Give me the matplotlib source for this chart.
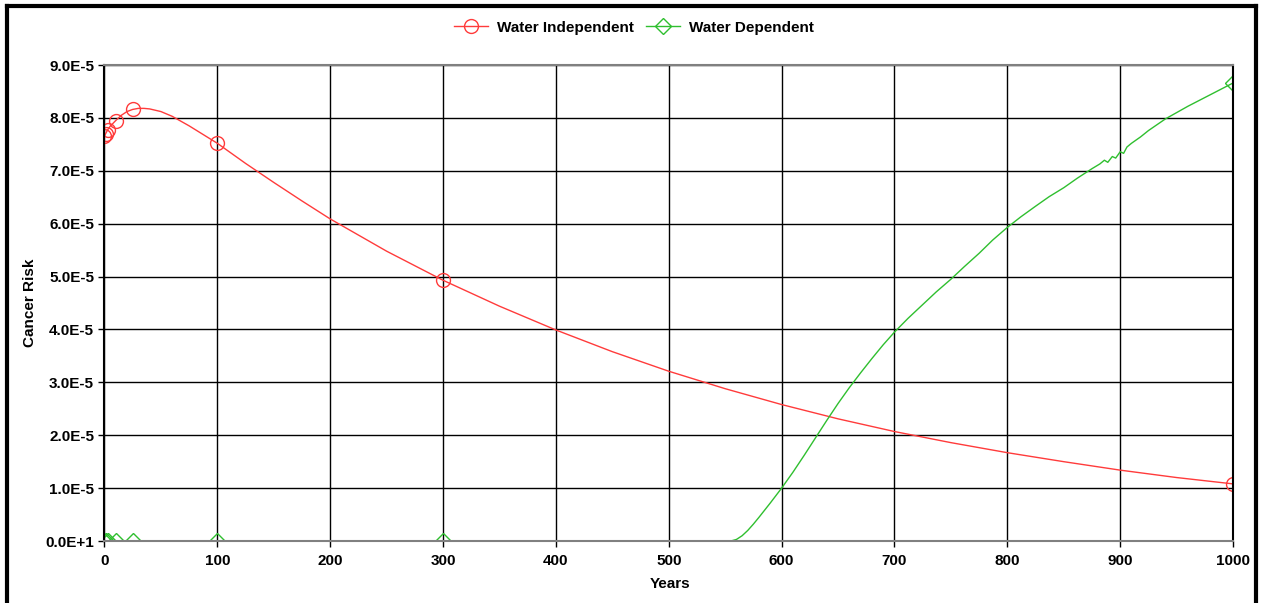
import matplotlib
matplotlib.use("Agg")
import matplotlib.pyplot as plt
from matplotlib.lines import Line2D

plt.rcParams['font.family'] = ['Liberation Sans', 'DejaVu Sans']
plt.rcParams['font.weight'] = 'bold'

# Water independent pathway risk
ind_years = [0, 1, 3, 5, 10, 15, 20, 25, 30, 35, 40, 50, 60, 75, 100, 125, 150,
             175, 200, 250, 300, 350, 400, 450, 500, 550, 600, 650, 700, 750,
             800, 850, 900, 950, 1000]
ind_risk = [7.65, 7.70, 7.78, 7.84, 7.95, 8.05, 8.12, 8.16, 8.18, 8.18, 8.17,
            8.12, 8.03, 7.85, 7.52, 7.14, 6.78, 6.43, 6.09, 5.48, 4.93, 4.44,
            3.99, 3.58, 3.21, 2.88, 2.58, 2.31, 2.07, 1.86, 1.67, 1.50, 1.34,
            1.20, 1.08]

# Water dependent pathway risk
dep_years = [0, 1, 3, 10, 25, 100, 300, 555, 560, 565, 570, 575, 580, 590, 600,
             610, 620, 630, 640, 650, 660, 670, 680, 690, 700, 712, 725, 737,
             750, 762, 775, 787, 800, 812, 825, 837, 850, 862, 875, 882, 886,
             889, 893, 896, 900, 903, 906, 910, 918, 925, 940, 960, 980, 1000]
dep_risk = [0, 0, 0, 0, 0, 0, 0, 0, 0.03, 0.1, 0.2, 0.32, 0.45, 0.72, 1.0,
            1.3, 1.62, 1.95, 2.28, 2.6, 2.9, 3.18, 3.45, 3.71, 3.95, 4.21,
            4.47, 4.71, 4.95, 5.19, 5.44, 5.69, 5.93, 6.13, 6.33, 6.51, 6.68,
            6.86, 7.04, 7.13, 7.20, 7.16, 7.27, 7.24, 7.36, 7.33, 7.45, 7.52,
            7.64, 7.76, 7.98, 8.22, 8.44, 8.66]

# times at which markers are drawn
mark_years = [0, 1, 3, 10, 25, 100, 300, 1000]

scale = 1e-5
ind_y = [v * scale for v in ind_risk]
dep_y = [v * scale for v in dep_risk]

ytick_vals = [0, 1, 2, 3, 4, 5, 6, 7, 8, 9]
ytick_labels = ['0.0E+1', '1.0E-5', '2.0E-5', '3.0E-5', '4.0E-5', '5.0E-5',
                '6.0E-5', '7.0E-5', '8.0E-5', '9.0E-5']
xtick_vals = [0, 100, 200, 300, 400, 500, 600, 700, 800, 900, 1000]

red = '#ff3b3b'
green = '#2fbf2f'
fs = 11

fig = plt.figure(figsize=(12.63, 6.03), dpi=100)
ax = fig.add_axes([0.0827, 0.1028, 0.8936, 0.7894])

ax.plot(ind_years, ind_y, color=red, lw=1.0)
ax.plot(dep_years, dep_y, color=green, lw=1.0)

ind_marks = [ind_y[ind_years.index(t)] for t in mark_years]
dep_marks = [dep_y[dep_years.index(t)] for t in mark_years]
ax.plot(mark_years, ind_marks, ls='none', marker='o', ms=10, mfc='none',
        mec=red, mew=1.0)
ax.plot(mark_years, dep_marks, ls='none', marker='D', ms=8.5, mfc='none',
        mec=green, mew=1.0)

ax.set_xlim(0, 1000)
ax.set_ylim(0, 9e-5)
ax.set_xticks(xtick_vals)
ax.set_yticks([v * scale for v in ytick_vals])
ax.set_yticklabels(ytick_labels)
ax.tick_params(axis='both', labelsize=fs, direction='out', length=4,
               width=1, colors='black')
ax.tick_params(axis='x', pad=5)
for lbl in ax.get_xticklabels() + ax.get_yticklabels():
    lbl.set_fontweight('bold')

ax.grid(True, color='black', lw=1.0)
ax.set_axisbelow(True)
ax.spines['top'].set_color('#808080')
ax.spines['bottom'].set_color('#808080')
ax.spines['left'].set_color('black')
ax.spines['right'].set_color('black')
for s in ax.spines.values():
    s.set_linewidth(1.5)

ax.set_xlabel('Years', fontsize=fs, fontweight='bold')
ax.set_ylabel('Cancer Risk', fontsize=fs, fontweight='bold')
ax.xaxis.set_label_coords(0.501, -0.076)
ax.yaxis.set_label_coords(-0.060, 0.5)

handles = [
    Line2D([], [], color=red, lw=1.0, marker='o', ms=10, mfc='none', mec=red),
    Line2D([], [], color=green, lw=1.0, marker='D', ms=8.5, mfc='none', mec=green),
]
fig.legend(handles, ['Water Independent', 'Water Dependent'],
           loc='center', bbox_to_anchor=(0.502, 0.954), ncol=2, frameon=False,
           prop={'size': fs, 'weight': 'bold'}, handlelength=2.2,
           columnspacing=0.8, handletextpad=0.6)

# outer frame round the figure
frame_kw = dict(color='black', lw=3, transform=fig.transFigure)
fig.add_artist(Line2D([0.0055, 0.0055], [0, 0.99], **frame_kw))
fig.add_artist(Line2D([0.0055, 0.9945], [0.99, 0.99], **frame_kw))
fig.add_artist(Line2D([0.9945, 0.9945], [0, 0.99], **frame_kw))

fig.savefig('out.png', dpi=100)
